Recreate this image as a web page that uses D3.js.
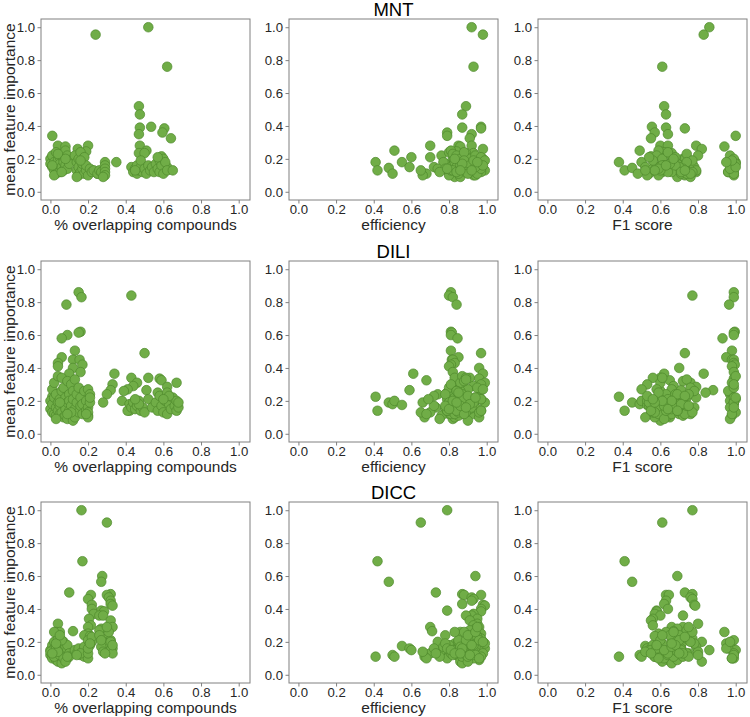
<!DOCTYPE html>
<html><head><meta charset="utf-8">
<script src="https://cdn.jsdelivr.net/npm/d3@7"></script>
<style>
body{margin:0;background:#fff;}
text{font-family:Arial,"Liberation Sans",sans-serif;}
</style></head>
<body><svg id="chart" width="750" height="717"></svg>
<script>
// Datasets (rows) and metrics (columns)
const datasets = ["MNT", "DILI", "DICC"];
const metricLabels = ["% overlapping compounds", "efficiency", "F1 score"];
const yLabel = "mean feature importance";
const tickValues = [0.0, 0.2, 0.4, 0.6, 0.8, 1.0];

// Each record: [overlap, efficiency, F1, mean feature importance]
const mntPoints = [
[0.52,0.92,0.86,1.00],[0.24,0.98,0.83,0.955],[0.62,0.93,0.61,0.76],[0.47,0.89,0.62,0.52],
[0.475,0.87,0.63,0.47],[0.535,0.97,0.555,0.395],[0.475,0.87,0.63,0.39],[0.605,0.97,0.73,0.385],
[0.595,0.79,0.57,0.36],[0.47,0.92,0.64,0.35],[0.01,0.79,1.0,0.34],[0.64,0.91,0.55,0.325],
[0.475,0.70,0.60,0.28],[0.20,0.92,0.64,0.28],[0.04,0.85,0.79,0.28],[0.08,0.86,0.94,0.275],
[0.145,0.98,0.82,0.26],[0.51,0.51,0.49,0.25],[0.19,0.84,0.60,0.245],[0.47,0.93,0.62,0.235],
[0.50,0.89,0.66,0.235],[0.10,0.60,0.56,0.21],[0.59,0.83,0.55,0.215],
[0.35,0.41,0.38,0.18],[0.05,0.42,0.41,0.13],[0.15,0.48,0.45,0.145],[0.25,0.50,0.48,0.11],
[0.58,0.55,0.50,0.18],[0.62,0.59,0.52,0.15],
[0.00,0.82,0.72,0.20],[0.00,0.88,0.65,0.17],[0.01,0.92,0.58,0.15],[0.01,0.76,0.80,0.22],
[0.02,0.95,0.98,0.18],[0.02,0.84,0.70,0.13],[0.03,0.80,0.62,0.24],[0.03,0.90,0.75,0.16],
[0.03,0.68,0.54,0.11],[0.04,0.86,0.99,0.19],[0.04,0.97,0.68,0.14],[0.05,0.83,0.60,0.21],
[0.05,0.78,0.77,0.17],[0.05,0.93,0.96,0.12],[0.06,0.88,0.64,0.23],[0.06,0.72,0.57,0.15],
[0.07,0.91,0.73,0.20],[0.07,0.85,1.00,0.18],[0.07,0.99,0.66,0.13],[0.08,0.81,0.59,0.25],
[0.08,0.87,0.71,0.16],[0.09,0.94,0.97,0.22],[0.09,0.79,0.63,0.14],[0.10,0.83,0.76,0.19],
[0.10,0.96,0.69,0.17],[0.02,0.66,0.53,0.10],[0.06,0.89,0.61,0.12],[0.04,0.82,0.74,0.23],
[0.08,0.98,0.99,0.20],[0.01,0.86,0.67,0.16],
[0.13,0.84,0.58,0.22],[0.14,0.90,0.72,0.13],[0.14,0.77,0.66,0.18],[0.15,0.93,0.99,0.10],
[0.15,0.86,0.61,0.20],[0.15,0.81,0.78,0.15],[0.16,0.95,0.70,0.12],[0.16,0.88,0.64,0.24],
[0.17,0.74,0.56,0.14],[0.17,0.92,1.00,0.17],[0.18,0.85,0.75,0.11],[0.18,0.97,0.68,0.21],
[0.19,0.82,0.60,0.13],[0.19,0.89,0.98,0.16],[0.20,0.94,0.73,0.10],[0.14,0.83,0.69,0.09],
[0.16,0.99,0.77,0.19],
[0.21,0.87,0.63,0.14],[0.22,0.91,0.79,0.12],[0.23,0.79,0.57,0.13],[0.25,0.85,0.71,0.11],
[0.26,0.96,0.65,0.13],[0.27,0.90,0.99,0.12],[0.29,0.83,0.74,0.18],[0.29,0.88,0.62,0.16],
[0.29,0.93,0.68,0.14],[0.29,0.97,0.96,0.12],[0.29,0.80,0.59,0.10],[0.28,0.86,0.76,0.09],
[0.43,0.84,0.58,0.15],[0.44,0.90,0.66,0.12],[0.45,0.78,0.72,0.14],[0.46,0.95,0.99,0.11],
[0.46,0.86,0.61,0.16],[0.47,0.81,0.79,0.13],[0.48,0.92,0.70,0.15],[0.48,0.88,0.56,0.19],
[0.49,0.75,0.64,0.12],[0.50,0.97,0.97,0.14],[0.51,0.85,0.74,0.11],[0.52,0.91,0.68,0.16],
[0.53,0.82,0.60,0.13],[0.54,0.94,1.00,0.15],[0.55,0.89,0.77,0.12],[0.56,0.87,0.65,0.17],
[0.57,0.79,0.59,0.14],[0.58,0.93,0.98,0.19],[0.58,0.84,0.71,0.12],[0.59,0.98,0.63,0.16],
[0.60,0.90,0.76,0.11],[0.60,0.83,0.67,0.20],[0.61,0.95,0.95,0.18],[0.62,0.86,0.57,0.13],
[0.65,0.92,0.73,0.13],[0.57,0.70,0.54,0.21],[0.45,0.65,0.52,0.13]
];

const diliPoints = [
[0.15,0.81,0.99,0.86],[0.43,0.80,0.77,0.84],[0.165,0.82,0.99,0.83],[0.085,0.84,0.965,0.785],
[0.16,0.81,0.995,0.62],[0.15,0.815,0.99,0.615],[0.09,0.81,0.99,0.60],[0.06,0.845,0.93,0.58],
[0.13,0.81,0.98,0.505],[0.50,0.97,0.73,0.49],[0.06,0.85,0.95,0.465],[0.12,0.815,0.98,0.45],
[0.155,0.82,0.99,0.45],[0.04,0.83,0.99,0.43],[0.17,0.81,0.995,0.42],[0.04,0.80,0.98,0.41],
[0.12,0.96,0.70,0.40],[0.16,0.82,0.99,0.375],[0.34,0.61,0.62,0.365],[0.10,0.98,0.83,0.365],
[0.43,0.91,0.60,0.34],[0.52,0.83,0.56,0.34],[0.58,0.96,0.99,0.335],[0.59,0.68,0.65,0.325],
[0.46,0.99,0.76,0.31],[0.67,0.87,0.98,0.31],[0.33,0.97,0.53,0.30],[0.44,0.93,0.67,0.29],
[0.62,0.82,0.79,0.285],[0.41,0.90,0.50,0.27],[0.32,0.59,0.88,0.265],[0.51,0.97,0.71,0.265],
[0.39,0.86,0.60,0.26],[0.57,0.79,0.84,0.25],[0.30,0.74,0.97,0.24],
[0.01,0.41,0.38,0.225],[0.42,0.42,0.41,0.14],[0.28,0.48,0.45,0.19],[0.45,0.50,0.49,0.18],
[0.38,0.51,0.50,0.20],[0.08,0.55,0.53,0.175],
[0.00,0.82,0.62,0.20],[0.00,0.78,0.57,0.15],[0.01,0.88,0.70,0.13],[0.01,0.92,0.99,0.18],
[0.01,0.84,0.66,0.27],[0.02,0.80,0.55,0.12],[0.02,0.95,0.74,0.22],[0.02,0.86,0.60,0.31],
[0.03,0.73,0.78,0.16],[0.03,0.90,0.98,0.11],[0.03,0.83,0.63,0.24],[0.04,0.81,0.71,0.19],
[0.04,0.97,0.58,0.14],[0.04,0.87,1.00,0.35],[0.05,0.79,0.67,0.21],[0.05,0.93,0.76,0.12],
[0.05,0.85,0.54,0.17],[0.06,0.82,0.96,0.26],[0.06,0.70,0.69,0.13],[0.06,0.89,0.61,0.34],
[0.07,0.84,0.73,0.18],[0.07,0.96,0.65,0.10],[0.07,0.80,0.99,0.28],[0.08,0.91,0.56,0.15],
[0.08,0.83,0.79,0.22],[0.08,0.76,0.64,0.11],[0.09,0.88,0.72,0.32],[0.09,0.99,0.59,0.19],
[0.09,0.82,0.97,0.09],[0.10,0.86,0.68,0.24],[0.10,0.79,0.75,0.14],[0.10,0.94,0.53,0.20],
[0.11,0.81,0.99,0.30],[0.11,0.87,0.66,0.12],[0.11,0.72,0.71,0.17],[0.12,0.90,0.60,0.08],
[0.12,0.84,0.77,0.26],[0.12,0.97,1.00,0.21],[0.13,0.80,0.63,0.15],[0.13,0.89,0.74,0.33],
[0.13,0.83,0.57,0.10],[0.14,0.92,0.98,0.19],[0.14,0.78,0.69,0.24],[0.15,0.86,0.62,0.13],
[0.15,0.95,0.76,0.28],[0.16,0.82,0.55,0.17],[0.16,0.88,0.99,0.22],[0.17,0.81,0.70,0.12],
[0.17,0.91,0.65,0.18],[0.18,0.84,0.78,0.26],[0.19,0.79,0.60,0.14],[0.19,0.93,0.97,0.20],
[0.20,0.85,0.72,0.11],[0.20,0.98,0.58,0.27],[0.20,0.82,0.68,0.16],[0.20,0.89,1.00,0.13],
[0.21,0.87,0.75,0.24],[0.21,0.80,0.64,0.19],[0.20,0.67,0.52,0.10],[0.21,0.94,0.99,0.22],
[0.19,0.83,0.73,0.12],[0.11,0.65,0.56,0.13],[0.05,0.66,0.54,0.19],[0.09,0.68,0.59,0.12],
[0.03,0.75,0.62,0.09],
[0.41,0.84,0.63,0.14],[0.42,0.90,0.70,0.18],[0.43,0.81,0.58,0.16],[0.44,0.86,0.99,0.19],
[0.45,0.95,0.66,0.15],[0.46,0.83,0.74,0.17],[0.47,0.88,0.61,0.20],[0.48,0.79,0.69,0.14],
[0.49,0.92,0.97,0.16],[0.50,0.85,0.57,0.13],[0.47,0.82,0.72,0.18],[0.45,0.97,0.64,0.21],
[0.52,0.87,0.60,0.21],[0.54,0.81,0.68,0.16],[0.56,0.93,0.99,0.19],[0.57,0.84,0.55,0.14],
[0.58,0.90,0.73,0.23],[0.59,0.78,0.62,0.17],[0.60,0.96,0.77,0.13],[0.61,0.83,0.66,0.20],
[0.62,0.88,0.98,0.12],[0.62,0.85,0.59,0.25],[0.63,0.91,0.71,0.18],[0.64,0.80,0.64,0.15],
[0.65,0.94,1.00,0.22],[0.66,0.86,0.75,0.17],[0.67,0.82,0.61,0.20],[0.67,0.97,0.69,0.14],
[0.68,0.89,0.99,0.16],[0.68,0.84,0.57,0.19],[0.63,0.72,0.53,0.23],[0.60,0.69,0.56,0.21]
];

const diccPoints = [
[0.165,0.79,0.77,1.00],[0.30,0.65,0.61,0.925],[0.17,0.42,0.41,0.69],[0.275,0.94,0.69,0.60],
[0.27,0.48,0.45,0.565],[0.10,0.73,0.73,0.50],[0.32,0.87,0.77,0.49],[0.215,0.88,0.63,0.485],
[0.30,0.97,0.645,0.485],[0.31,0.92,0.76,0.47],[0.20,0.93,0.77,0.46],[0.32,0.92,0.63,0.45],
[0.32,0.87,0.62,0.43],[0.22,0.98,0.78,0.425],[0.33,0.99,0.785,0.42],[0.22,0.97,0.64,0.40],
[0.27,0.79,0.58,0.39],[0.285,0.97,0.58,0.385],[0.23,0.93,0.57,0.37],[0.26,0.92,0.72,0.36],
[0.28,0.89,0.60,0.36],[0.205,0.95,0.56,0.34],[0.32,0.91,0.55,0.33],[0.04,0.95,0.80,0.31],
[0.215,0.93,0.56,0.30],[0.20,0.70,0.66,0.29],[0.33,0.96,0.72,0.29],[0.27,0.94,0.69,0.28],
[0.26,0.91,0.74,0.27],[0.12,0.71,0.67,0.265],[0.03,0.86,0.94,0.26],[0.05,0.88,0.63,0.26],
[0.20,0.97,0.59,0.25],[0.18,0.78,0.70,0.24],[0.21,0.95,0.57,0.235],[0.28,0.93,0.77,0.22],
[0.32,0.96,0.66,0.21],[0.22,0.90,0.82,0.20],[0.28,0.98,0.98,0.20],[0.30,0.92,0.95,0.19],
[0.27,0.89,0.79,0.17],[0.33,0.86,0.71,0.16],[0.32,0.95,0.86,0.15],[0.28,0.88,0.54,0.14],
[0.33,0.91,0.68,0.13],
[0.02,0.41,0.38,0.11],[0.04,0.50,0.49,0.12],[0.06,0.51,0.50,0.11],[0.08,0.55,0.52,0.175],
[0.05,0.59,0.53,0.16],[0.03,0.60,0.54,0.15],
[0.00,0.78,0.62,0.15],[0.00,0.84,0.70,0.12],[0.01,0.90,0.56,0.18],[0.01,0.70,0.75,0.13],
[0.01,0.86,0.99,0.10],[0.02,0.81,0.66,0.16],[0.02,0.95,0.59,0.12],[0.02,0.74,0.72,0.20],
[0.03,0.88,0.64,0.09],[0.03,0.83,0.80,0.14],[0.03,0.67,0.57,0.11],[0.04,0.92,0.97,0.17],
[0.04,0.80,0.68,0.13],[0.04,0.86,0.61,0.08],[0.04,0.97,0.74,0.22],[0.05,0.76,0.55,0.15],
[0.05,0.89,0.70,0.11],[0.05,0.83,0.78,0.19],[0.06,0.94,0.63,0.14],[0.06,0.79,0.98,0.10],
[0.06,0.87,0.66,0.07],[0.06,0.72,0.71,0.16],[0.07,0.91,0.58,0.12],[0.07,0.85,0.76,0.20],
[0.07,0.81,0.65,0.13],[0.08,0.96,0.69,0.09],[0.08,0.77,0.60,0.17],[0.08,0.88,0.73,0.12],
[0.09,0.84,1.00,0.15],[0.09,0.93,0.62,0.10],[0.09,0.80,0.67,0.18],[0.10,0.89,0.74,0.13],
[0.10,0.75,0.57,0.11],[0.00,0.93,0.68,0.14],[0.02,0.87,0.72,0.11],[0.03,0.99,0.96,0.16],
[0.05,0.82,0.64,0.12],[0.07,0.68,0.59,0.10],[0.04,0.66,0.52,0.14],[0.01,0.98,0.99,0.13],
[0.08,0.90,0.82,0.08],[0.06,0.85,0.70,0.21],[0.03,0.78,0.61,0.19],[0.09,0.97,0.67,0.11],
[0.02,0.83,0.77,0.26],[0.05,0.92,0.65,0.24],
[0.13,0.82,0.71,0.15],[0.14,0.88,0.64,0.13],[0.15,0.79,0.58,0.16],[0.16,0.94,0.99,0.12],
[0.17,0.85,0.69,0.14],[0.18,0.90,0.75,0.11],[0.19,0.81,0.62,0.15],[0.20,0.96,0.98,0.10],
[0.18,0.86,0.66,0.17],[0.16,0.73,0.55,0.13],[0.14,0.91,0.80,0.12],[0.20,0.83,0.72,0.13],
[0.20,0.89,0.60,0.21],[0.21,0.93,0.68,0.18],[0.20,0.87,0.95,0.16],[0.22,0.95,0.73,0.23],
[0.21,0.99,0.66,0.19],
[0.26,0.90,0.61,0.24],[0.27,0.96,0.99,0.21],[0.29,0.86,0.70,0.13],[0.31,0.94,0.67,0.26],
[0.32,0.98,0.97,0.20],[0.33,0.92,0.58,0.18],[0.30,0.95,0.75,0.29]
];

const rowData = [mntPoints, diliPoints, diccPoints];

// Layout
const svg = d3.select("#chart");
const colLeft = [41, 289, 538];
const panelW = 209;
const rowTop = [19, 261, 502];
const panelH = 181;
const xDomain = [-0.05, 1.06];
const yDomain = [-0.05, 1.05];
const fill = "#70ad47", stroke = "#4f8a2d";
const frameColor = "#808080";

rowData.forEach((pts, r) => {
  const top = rowTop[r];
  const y = d3.scaleLinear().domain(yDomain).range([top + panelH, top]);
  for (let c = 0; c < 3; c++) {
    const left = colLeft[c];
    const x = d3.scaleLinear().domain(xDomain).range([left, left + panelW]);
    const g = svg.append("g");

    const ya = g.append("g").attr("transform", `translate(${left},0)`)
      .call(d3.axisLeft(y).tickValues(tickValues).tickFormat(d3.format(".1f")).tickSize(3.5).tickPadding(2.5));
    const xa = g.append("g").attr("transform", `translate(0,${top + panelH})`)
      .call(d3.axisBottom(x).tickValues(tickValues).tickFormat(d3.format(".1f")).tickSize(3.5).tickPadding(0.8));
    [ya, xa].forEach(a => {
      a.select(".domain").remove();
      a.selectAll("line").attr("stroke", frameColor);
      a.selectAll("text").attr("fill", "#262626").style("font-size", "13.2px")
        .style("font-family", "Arial, 'Liberation Sans', sans-serif");
    });

    g.append("rect").attr("x", left).attr("y", top).attr("width", panelW).attr("height", panelH)
      .attr("fill", "none").attr("stroke", frameColor).attr("stroke-width", 1);

    g.append("g").selectAll("circle").data(pts).join("circle")
      .attr("cx", d => x(d[c])).attr("cy", d => y(d[3])).attr("r", 4.8)
      .attr("fill", fill).attr("stroke", stroke).attr("stroke-width", 0.7);

    g.append("text").attr("x", left + panelW / 2).attr("y", top + panelH + 30)
      .attr("text-anchor", "middle").style("font-size", "15.5px").attr("fill", "#262626")
      .text(metricLabels[c]);

    if (c === 0) {
      g.append("text")
        .attr("transform", `translate(15,${top + panelH / 2}) rotate(-90)`)
        .attr("text-anchor", "middle").style("font-size", "15.5px").attr("fill", "#262626")
        .text(yLabel);
    }
    if (c === 1) {
      g.append("text").attr("x", left + panelW / 2).attr("y", top - 3.5)
        .attr("text-anchor", "middle").style("font-size", "18.5px").attr("fill", "#000")
        .text(datasets[r]);
    }
  }
});
</script></body></html>
